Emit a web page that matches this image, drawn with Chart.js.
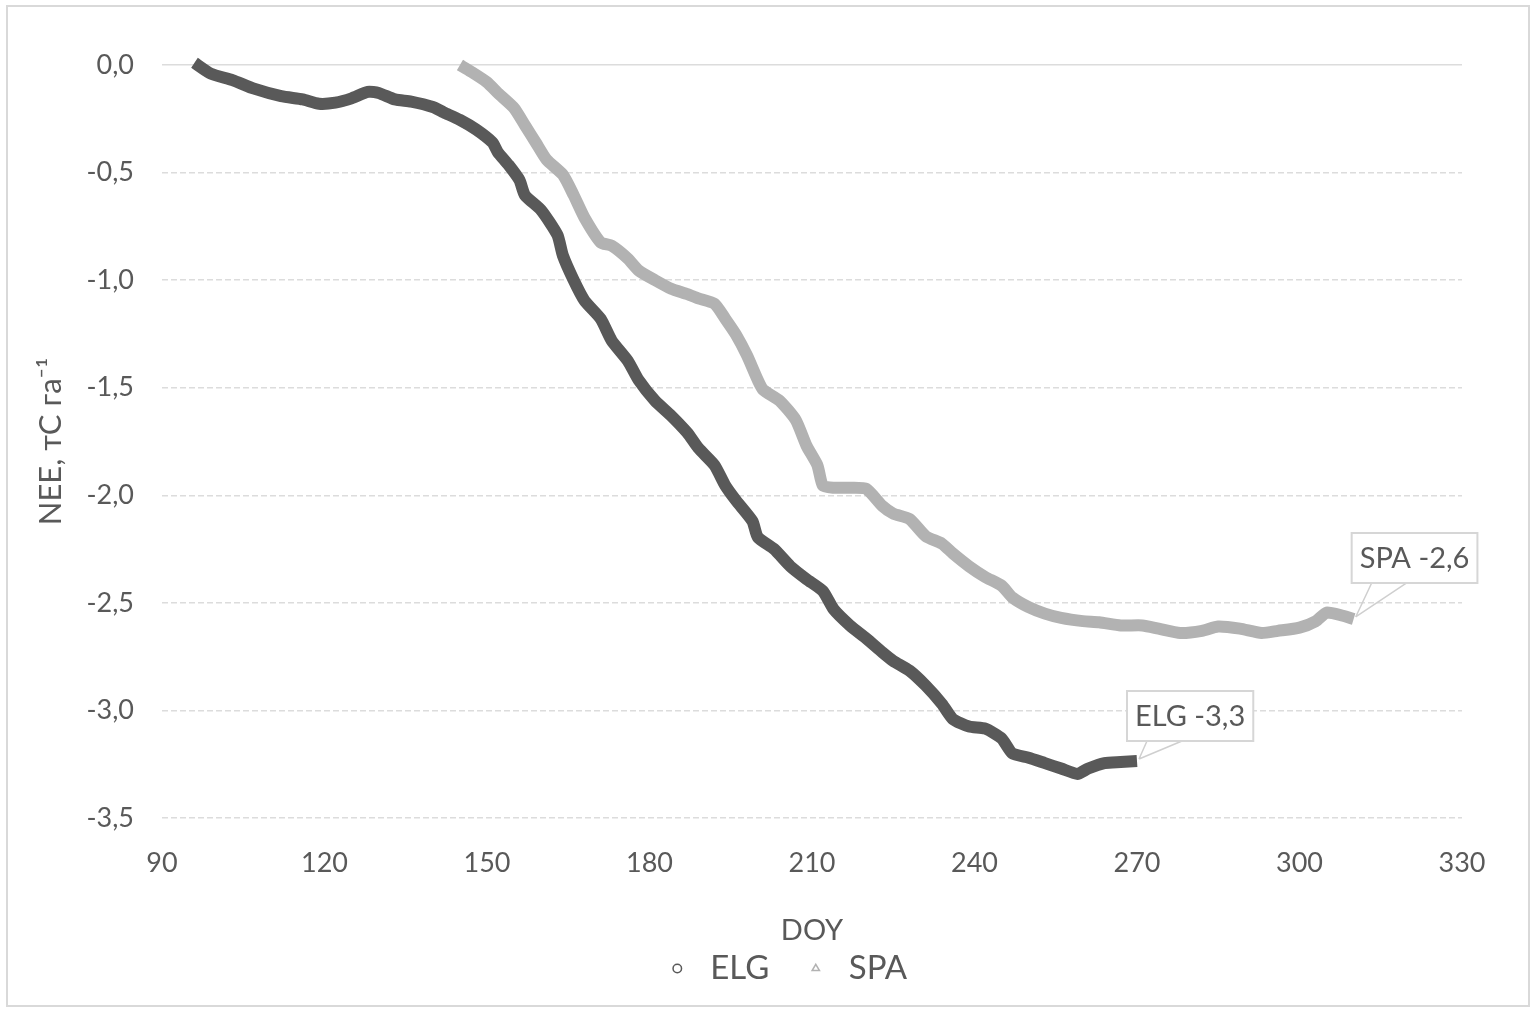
<!DOCTYPE html>
<html>
<head>
<meta charset="utf-8">
<script src="https://cdn.jsdelivr.net/npm/chart.js@4"></script>
<style>
  html, body { margin: 0; padding: 0; background: #fff; }
  #wrap { width: 1536px; height: 1010px; position: relative; }
</style>
</head>
<body>
<div id="wrap"><canvas id="chart"></canvas></div>
<script>
// ELG series (DOY, NEE)
const elgDoy = [96, 99, 103, 107, 112, 116, 119, 122, 125, 128, 130, 133, 136, 140, 142, 145, 148, 151, 152, 154, 156, 157,
  160, 163, 164, 166, 168, 171, 173, 176, 178, 181, 184, 187, 189, 192, 194, 196, 199, 200, 203, 206, 209, 212, 214, 217,
  220, 223, 225, 228, 231, 234, 236, 239, 242, 245, 247, 250, 253, 256, 259, 261, 264, 267, 270];
const elgNee = [0.01, -0.04, -0.07, -0.11, -0.145, -0.16, -0.18, -0.175, -0.155, -0.125, -0.13, -0.16, -0.17, -0.195, -0.22,
  -0.255, -0.30, -0.36, -0.405, -0.465, -0.535, -0.605, -0.675, -0.79, -0.885, -1.0, -1.095, -1.18, -1.28, -1.375, -1.465,
  -1.56, -1.63, -1.71, -1.78, -1.86, -1.955, -2.025, -2.12, -2.195, -2.25, -2.33, -2.39, -2.445, -2.53, -2.605, -2.665,
  -2.73, -2.77, -2.815, -2.885, -2.97, -3.04, -3.075, -3.085, -3.13, -3.20, -3.22, -3.245, -3.27, -3.295, -3.27, -3.245,
  -3.24, -3.235];

// SPA series (DOY, NEE)
const spaDoy = [145, 147, 150, 152, 155, 157, 159, 161, 164, 166, 168, 171, 173, 176, 178, 181, 184, 187, 189, 192, 194,
  196, 198, 200, 201, 204, 207, 209, 211, 212, 214, 217, 220, 223, 225, 228, 231, 234, 236, 239, 242, 245, 247, 250, 253,
  256, 260, 263, 267, 271, 274, 278, 282, 285, 289, 293, 296, 300, 303, 305, 308, 310];
const spaNee = [0.0, -0.03, -0.08, -0.13, -0.20, -0.28, -0.36, -0.44, -0.51, -0.605, -0.71, -0.825, -0.84, -0.90, -0.955,
  -1.0, -1.04, -1.065, -1.085, -1.11, -1.18, -1.255, -1.35, -1.465, -1.51, -1.56, -1.65, -1.77, -1.86, -1.955, -1.965,
  -1.965, -1.97, -2.05, -2.085, -2.11, -2.19, -2.225, -2.27, -2.33, -2.38, -2.42, -2.475, -2.52, -2.55, -2.57, -2.585,
  -2.59, -2.605, -2.605, -2.62, -2.64, -2.63, -2.61, -2.62, -2.64, -2.63, -2.615, -2.585, -2.545, -2.56, -2.575];

const seriesNames = ['ELG', 'SPA'];
const seriesColors = ['#595959', '#b2b2b2'];
const xTicks = [90, 120, 150, 180, 210, 240, 270, 300, 330];
const yTicks = [0, -0.5, -1.0, -1.5, -2.0, -2.5, -3.0, -3.5];

const FONT = 'Lato, "Open Sans", sans-serif';
const TXT = '#595959';
const fmt = v => v.toFixed(1).replace('.', ',');

const toPts = (xs, ys) => xs.map((x, i) => ({ x: x, y: ys[i] }));

// frame around whole chart
const framePlugin = {
  id: 'frame',
  beforeDraw(chart) {
    const c = chart.ctx;
    c.save();
    c.strokeStyle = '#d9d9d9';
    c.lineWidth = 2;
    c.strokeRect(7, 6, chart.width - 14, chart.height - 10);
    c.restore();
  },
  // excel centres the legend a bit right of the canvas middle
  afterLayout(chart) {
    if (chart.legend) {
      chart.legend.left += 37;
      chart.legend.right += 37;
    }
  }
};

// callout boxes with min value of each series, attached to last point
const calloutOffsets = [{ dx: -10, dy: -20 }, { dx: -2, dy: -36 }];
const calloutPlugin = {
  id: 'callout',
  afterDatasetsDraw(chart) {
    const c = chart.ctx;
    chart.data.datasets.forEach((ds, i) => {
      const meta = chart.getDatasetMeta(i);
      const last = meta.data[meta.data.length - 1];
      const minV = Math.min(...ds.data.map(p => p.y));
      const text = ds.label + ' -' + fmt(Math.abs(minV));
      c.save();
      c.font = '29px ' + FONT;
      const w = c.measureText(text).width + 16;
      const h = 50;
      const bx = last.x + calloutOffsets[i].dx;
      const by = last.y + calloutOffsets[i].dy - h;
      c.strokeStyle = '#cfcfcf';
      c.lineWidth = 1.5;
      c.beginPath();
      c.moveTo(last.x + 2, last.y - 2);
      c.lineTo(bx + 20, by + h);
      c.moveTo(last.x + 2, last.y - 2);
      c.lineTo(bx + 55, by + h);
      c.stroke();
      c.fillStyle = '#fff';
      c.fillRect(bx, by, w, h);
      c.strokeStyle = '#d6d6d6';
      c.lineWidth = 2;
      c.strokeRect(bx, by, w, h);
      c.fillStyle = TXT;
      c.textBaseline = 'middle';
      c.textAlign = 'center';
      c.fillText(text, bx + w / 2, by + h / 2 + 1);
      c.restore();
    });
  }
};

new Chart(document.getElementById('chart'), {
  type: 'line',
  data: {
    datasets: [
      {
        label: seriesNames[0],
        data: toPts(elgDoy, elgNee),
        borderColor: seriesColors[0],
        backgroundColor: seriesColors[0],
        borderWidth: 12,
        pointRadius: 0,
        pointStyle: 'circle',
        tension: 0.2,
        clip: false
      },
      {
        label: seriesNames[1],
        data: toPts(spaDoy, spaNee),
        borderColor: seriesColors[1],
        backgroundColor: seriesColors[1],
        borderWidth: 12,
        pointRadius: 0,
        pointStyle: 'triangle',
        tension: 0.2,
        clip: false
      }
    ]
  },
  options: {
    responsive: true,
    maintainAspectRatio: false,
    animation: false,
    layout: { padding: { top: 65, right: 74, left: 32, bottom: 15 } },
    plugins: {
      legend: {
        position: 'bottom',
        labels: {
          usePointStyle: true,
          boxWidth: 33,
          boxHeight: 6,
          padding: 30,
          color: TXT,
          font: { family: FONT, size: 33 },
          generateLabels(chart) {
            return Chart.defaults.plugins.legend.labels.generateLabels(chart).map(l => {
              l.lineWidth = 1.5;
              l.fillStyle = '#fff';
              return l;
            });
          }
        }
      },
      tooltip: { enabled: false }
    },
    scales: {
      x: {
        type: 'linear',
        min: 90,
        max: 330,
        afterBuildTicks(scale) { scale.ticks = xTicks.map(v => ({ value: v })); },
        grid: { display: false },
        border: { display: false },
        ticks: {
          color: TXT,
          font: { family: FONT, size: 27 },
          padding: 21,
          callback: v => String(v)
        },
        title: {
          display: true,
          text: 'DOY',
          color: TXT,
          font: { family: FONT, size: 29 },
          padding: { top: 0, bottom: -26 }
        },
        afterFit(scale) { scale.height = 104; }
      },
      y: {
        min: -3.5,
        max: 0,
        afterBuildTicks(scale) { scale.ticks = yTicks.map(v => ({ value: v })); },
        grid: {
          color: '#dcdcdc',
          lineWidth: 1.5,
          drawTicks: false
        },
        border: {
          display: false,
          dash: ctx => (ctx.tick && ctx.tick.value === 0 ? [] : [6, 3])
        },
        ticks: {
          color: TXT,
          font: { family: FONT, size: 27 },
          padding: 28,
          callback: v => fmt(v)
        },
        title: {
          display: true,
          text: 'NEE, тС га⁻¹',
          color: TXT,
          font: { family: FONT, size: 31 },
          padding: 0
        },
        afterFit(scale) { scale.width = 130; }
      }
    }
  },
  plugins: [framePlugin, calloutPlugin]
});
</script>
</body>
</html>
